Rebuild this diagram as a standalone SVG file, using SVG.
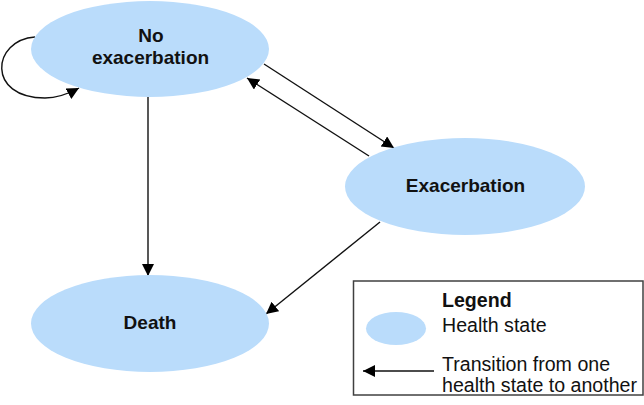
<svg xmlns="http://www.w3.org/2000/svg" width="644" height="405" viewBox="0 0 644 405">
<defs>
<style>
.state{fill:#badcfb;stroke:none}
.lbl{font-family:"Liberation Sans",Arial,sans-serif;font-weight:bold;font-size:19px;fill:#111;text-anchor:middle}
.lg{font-family:"Liberation Sans",Arial,sans-serif;font-size:19.6px;fill:#111}
.edge{fill:none;stroke:#111;stroke-width:1.4}
</style>
<marker id="ah" markerUnits="userSpaceOnUse" markerWidth="13" markerHeight="14" refX="12" refY="6" orient="auto">
<path d="M0,0 L12,6 L0,12 z" fill="#000"/>
</marker>
</defs>
<rect width="644" height="405" fill="#fff"/>
<g id="connectors">
<path class="edge" d="M35,37 C-8,40 -14,98 45,98 C58,98 68,94 79,88" marker-end="url(#ah)"/>
<line class="edge" x1="148" y1="97" x2="148" y2="276" marker-end="url(#ah)"/>
<line class="edge" x1="264" y1="64" x2="394" y2="148" marker-end="url(#ah)"/>
<line class="edge" x1="369" y1="156" x2="247" y2="78" marker-end="url(#ah)"/>
<line class="edge" x1="380" y1="222" x2="266" y2="314" marker-end="url(#ah)"/>
</g>
<g id="no-exacerbation">
<ellipse class="state" cx="150" cy="49" rx="119" ry="48"/>
<text class="lbl" x="151" y="42">No</text>
<text class="lbl" x="150.5" y="63.5">exacerbation</text>
</g>
<g id="exacerbation">
<ellipse class="state" cx="465" cy="186.5" rx="120" ry="48.5"/>
<text class="lbl" x="465.5" y="192">Exacerbation</text>
</g>
<g id="death">
<ellipse class="state" cx="150" cy="323.5" rx="119" ry="48.5"/>
<text class="lbl" x="150" y="328.5">Death</text>
</g>
<g id="legend">
<rect x="353.5" y="281" width="289.5" height="114" fill="#fff" stroke="#404040" stroke-width="1.5"/>
<text class="lg" x="442" y="306.5" font-weight="bold">Legend</text>
<ellipse class="state" cx="396" cy="328.5" rx="30" ry="16.5"/>
<text class="lg" x="442" y="331.5">Health state</text>
<line class="edge" x1="434" y1="371" x2="363" y2="371" marker-end="url(#ah)"/>
<text class="lg" x="442" y="370.5">Transition from one</text>
<text class="lg" x="442" y="391.5">health state to another</text>
</g>
</svg>
